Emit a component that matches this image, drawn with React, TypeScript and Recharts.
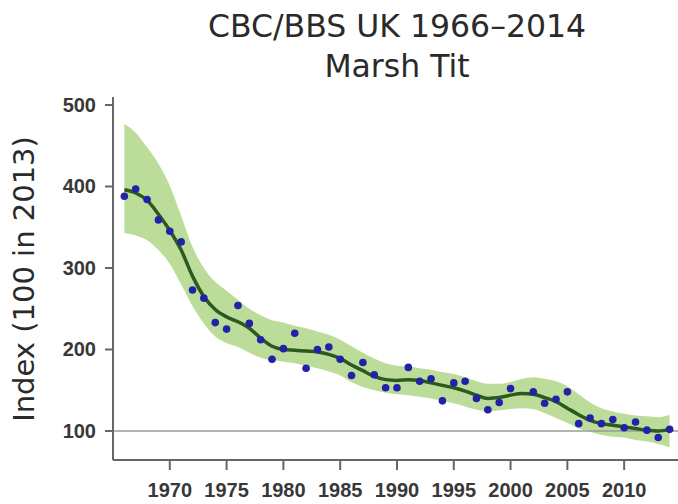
import React from 'react';
import { ComposedChart, Area, Line, XAxis, YAxis, ReferenceLine } from 'recharts';

const years = [
  1966, 1967, 1968, 1969, 1970, 1971, 1972, 1973, 1974, 1975,
  1976, 1977, 1978, 1979, 1980, 1981, 1982, 1983, 1984, 1985,
  1986, 1987, 1988, 1989, 1990, 1991, 1992, 1993, 1994, 1995,
  1996, 1997, 1998, 1999, 2000, 2001, 2002, 2003, 2004, 2005,
  2006, 2007, 2008, 2009, 2010, 2011, 2012, 2013, 2014,
];

const annualIndex: (number | null)[] = [
  388, 397, 384, 359, 345, 332, 273, 263, 233, 225,
  254, 232, 212, 188, 201, 220, 177, 200, 203, 188,
  168, 184, 169, 153, 153, 178, 161, 164, 137, 159,
  161, 140, 126, 135, 152, null, 148, 134, 139, 148,
  109, 116, 109, 114, 104, 111, 101, 92, 102,
];

const smoothedTrend = [
  396, 392, 383, 366, 346, 322, 290, 265, 249, 240,
  234, 226, 214, 204, 200, 199, 198, 197, 194, 189,
  181, 174, 167, 163, 162, 163, 162, 159, 156, 153,
  149, 144, 140, 141, 144, 146, 145, 141, 136, 128,
  120, 113, 109, 107, 105, 103, 101, 100, 102,
];

const upperLimit = [
  477, 466, 448, 428, 401, 364, 326, 300, 283, 272,
  261, 250, 242, 236, 233, 229, 226, 222, 218, 212,
  204, 196, 189, 183, 180, 179, 177, 175, 172, 170,
  166, 161, 158, 158, 160, 164, 166, 164, 161, 155,
  145, 135, 128, 124, 121, 119, 118, 117, 120,
];

const lowerLimit = [
  343, 340, 334, 322, 305, 280, 253, 232, 216, 208,
  203, 196, 190, 187, 185, 183, 180, 177, 173, 168,
  160, 154, 150, 147, 145, 144, 142, 140, 137, 134,
  130, 126, 124, 125, 127, 128, 127, 122, 116, 110,
  103, 99, 95, 93, 92, 89, 87, 84, 80,
];

const xTicks = [1970, 1975, 1980, 1985, 1990, 1995, 2000, 2005, 2010];
const yTicks = [100, 200, 300, 400, 500];

const data = years.map((year, i) => ({
  year,
  index: annualIndex[i],
  trend: smoothedTrend[i],
  band: [lowerLimit[i], upperLimit[i]],
}));

const tickFont = '"Liberation Sans", Arial, sans-serif';

const XTick = (props: any) => {
  const { x, y, payload } = props;
  return (
    <text x={x} y={y} dy={25} textAnchor="middle" fontFamily={tickFont} fontWeight="bold" fontSize={20} fill="#383838">
      {payload.value}
    </text>
  );
};

const YTick = (props: any) => {
  const { x, y, payload } = props;
  return (
    <text x={x} y={y} dy={7} textAnchor="end" fontFamily={tickFont} fontWeight="bold" fontSize={20} fill="#383838">
      {payload.value}
    </text>
  );
};

export default function App() {
  return (
    <div style={{ position: 'absolute', left: 0, top: 0, width: 678, height: 504, background: '#fff' }}>
      <ComposedChart
        width={678}
        height={504}
        data={data}
        margin={{ top: 97, right: 0, bottom: 0, left: 0 }}
      >
        <XAxis
          dataKey="year"
          type="number"
          domain={[1965, 2014.74]}
          ticks={xTicks}
          tick={<XTick />}
          tickSize={10}
          tickMargin={2}
          height={44}
          stroke="#666"
          strokeWidth={2}
          allowDataOverflow
          interval={0}
        />
        <YAxis
          type="number"
          domain={[64.4, 509.8]}
          ticks={yTicks}
          tick={<YTick />}
          tickSize={8}
          tickMargin={9}
          width={113}
          stroke="#666"
          strokeWidth={2}
          allowDataOverflow
          interval={0}
        />
        <ReferenceLine y={100} stroke="#9a9a9a" strokeWidth={1.5} />
        <Area
          dataKey="band"
          type="monotone"
          stroke="none"
          fill="#bcdd9a"
          fillOpacity={1}
          isAnimationActive={false}
          dot={false}
          activeDot={false}
        />
        <Line
          dataKey="trend"
          type="monotone"
          stroke="#2b5a1f"
          strokeWidth={3.5}
          dot={false}
          activeDot={false}
          isAnimationActive={false}
        />
        <Line
          dataKey="index"
          stroke="none"
          dot={{ r: 3.8, fill: '#2222a8', stroke: 'none' }}
          activeDot={false}
          isAnimationActive={false}
          connectNulls={false}
        />
      </ComposedChart>
      <svg width={678} height={504} style={{ position: 'absolute', left: 0, top: 0, pointerEvents: 'none' }}>
        <text x={397} y={37} textAnchor="middle" fontFamily='"DejaVu Sans", Verdana, sans-serif' fontSize={31.5} fill="#2a2a2a">
          CBC/BBS UK 1966–2014
        </text>
        <text x={397} y={77} textAnchor="middle" fontFamily='"DejaVu Sans", Verdana, sans-serif' fontSize={31.5} fill="#2a2a2a">
          Marsh Tit
        </text>
        <text
          x={0}
          y={0}
          transform="translate(34, 279) rotate(-90)"
          textAnchor="middle"
          fontFamily='"DejaVu Sans", Verdana, sans-serif'
          fontSize={29}
          fill="#2a2a2a"
        >
          Index (100 in 2013)
        </text>
      </svg>
    </div>
  );
}
